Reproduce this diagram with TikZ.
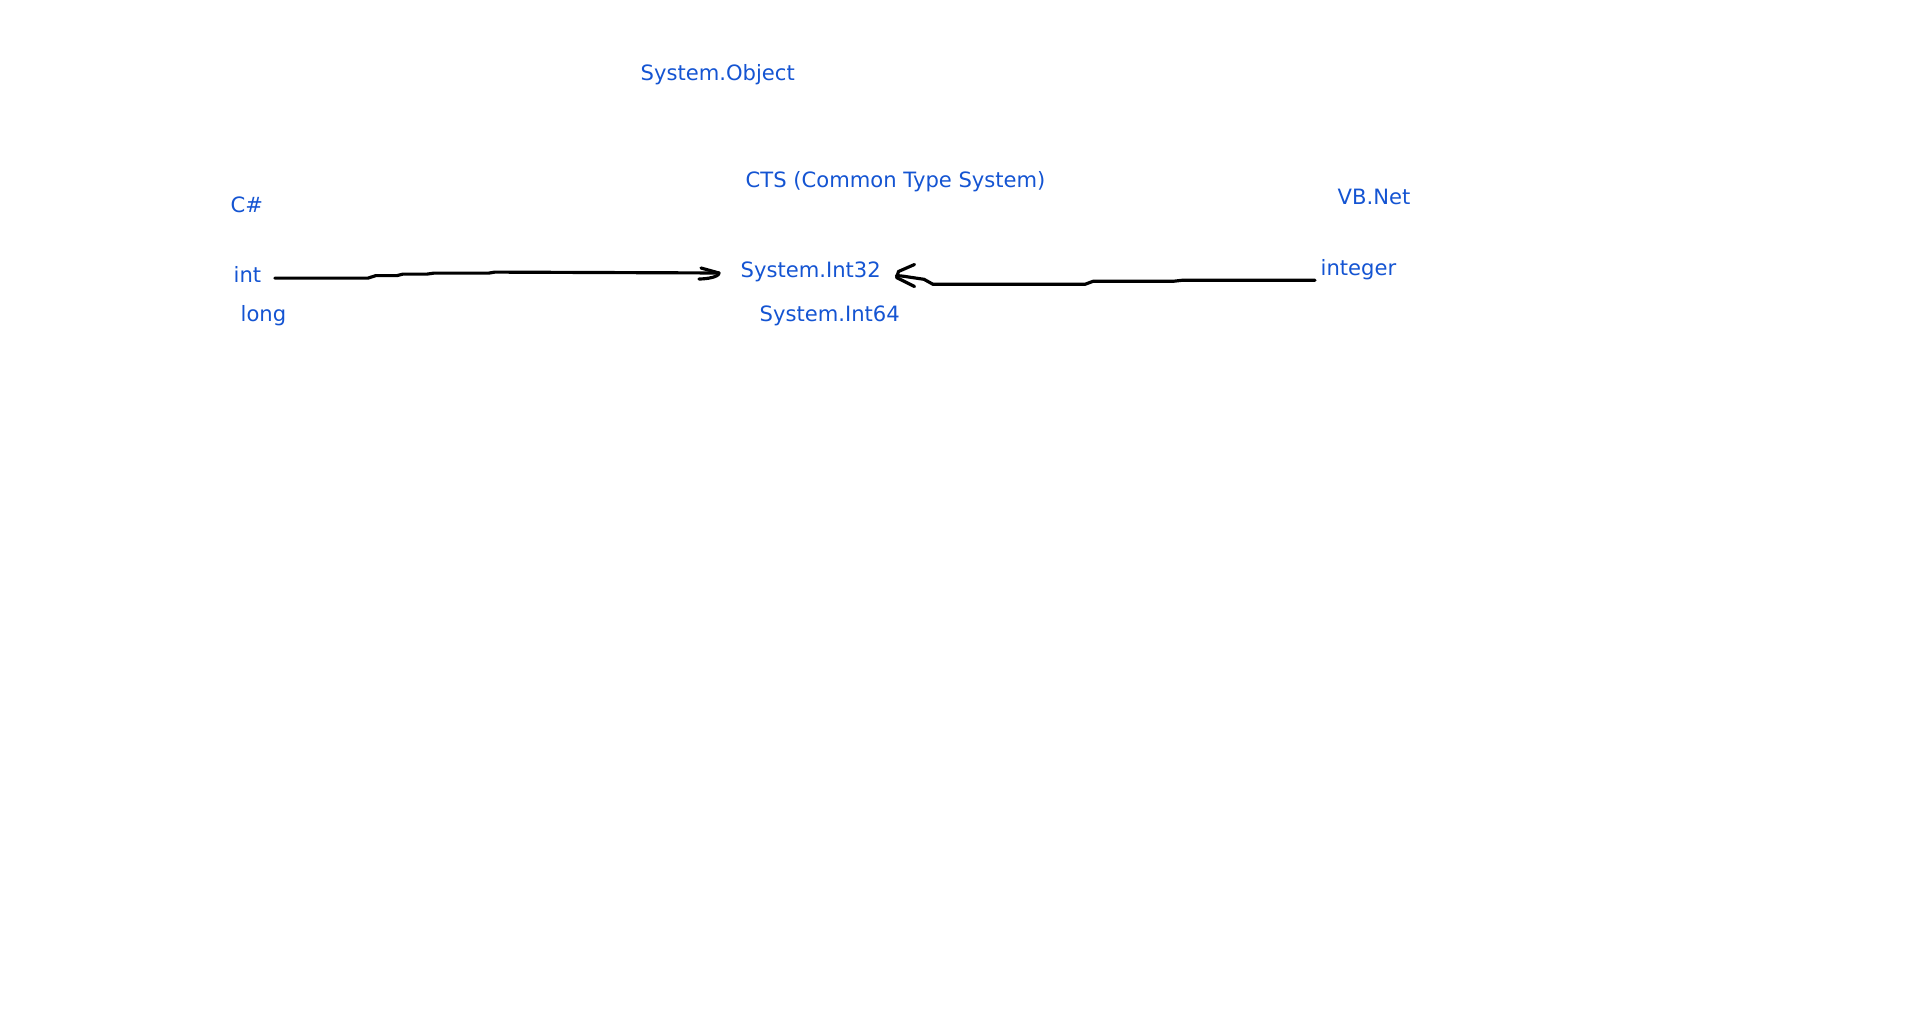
\documentclass[tikz,border=0pt]{standalone}
\usepackage{fontspec}
\setmainfont{DejaVu Sans}
\usetikzlibrary{positioning}
\definecolor{typeblue}{RGB}{20,84,210}

\begin{document}
\begin{tikzpicture}[x=0.01cm, y=-0.01cm,
  lbl/.style={text=typeblue, inner sep=0pt, anchor=mid west, font=\fontsize{6}{7}\selectfont},
  pen/.style={line width=0.9pt, line cap=round, line join=round}]
  \useasboundingbox (0,0) rectangle (1920,1017);
  % type names
  \node[lbl] (obj) at (640,70.5) {System.Object};
  \node[lbl] (cts) at (745,177.5) {CTS (Common Type System)};
  \node[lbl] (i32) at (740,267.5) {System.Int32};
  \node[lbl] (i64) at (759,311.5) {System.Int64};
  % C# side
  \node[lbl] (cs) at (230,202.5) {C\#};
  \node[lbl] (int) at (233,272.5) {int};
  \node[lbl] (long) at (240,311.5) {long};
  % VB.Net side
  \node[lbl] (vb) at (1337,194.5) {VB.Net};
  \node[lbl] (integer) at (1320,265.5) {integer};
  % hand drawn arrow int -> System.Int32
  \coordinate (ltip) at ([shift={(-21,1.5)}]i32.west);
  \draw[pen] ([shift={(13,4)}]int.east) -- ++(93,0) -- ++(8,-2.5) -- ++(21,0)
    -- ++(6,-1.5) -- ++(24,0) -- ++(7,-1) -- ++(55,0) -- ++(6,-1) -- (ltip);
  \draw[pen] ([shift={(-18,-5)}]ltip) -- (ltip) .. controls +(0,4) and +(8,0) .. ++(-20,6);
  % hand drawn arrow integer -> System.Int32
  \coordinate (rtip) at ([shift={(15,4)}]i32.east);
  \draw[pen] ([shift={(-5,11)}]integer.west) -- ++(-133,0) -- ++(-9,1) -- ++(-80,0)
    -- ++(-8,3) -- ++(-152,0) -- ++(-9,-5) -- ++(-20,-3) -- (rtip);
  \draw[pen] ([shift={(18,-11)}]rtip) -- ++(-16,7) -- ++(-2,6) -- ++(18,9);
\end{tikzpicture}
\end{document}
